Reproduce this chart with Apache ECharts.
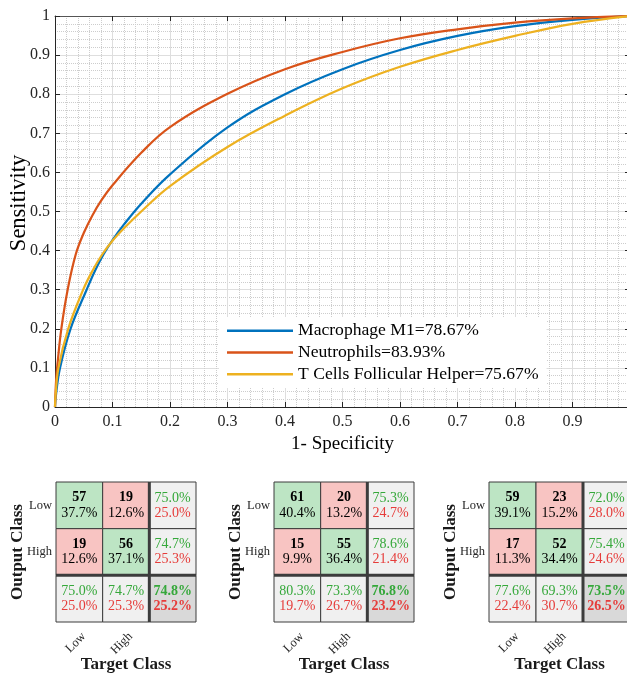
<!DOCTYPE html>
<html lang="en">
<head>
    <meta charset="UTF-8">
    <title>ROC and confusion matrices</title>
    <script src="https://cdn.jsdelivr.net/npm/echarts@6.0.0/dist/echarts.min.js"></script>
    <style>
        html, body { margin: 0; padding: 0; background: #fff; }
        #chart { width: 627px; height: 675px; }
    </style>
</head>
<body>
<div id="chart"></div>

<script>
    // ROC curves (1-specificity, sensitivity)
    var macroFpr = [0, 0.002, 0.0087, 0.027, 0.055, 0.07, 0.085, 0.1, 0.12, 0.15, 0.2, 0.3, 0.4, 0.5, 0.6, 0.7, 0.8, 0.9, 1];
    var macroTpr = [0, 0.035, 0.1, 0.2, 0.3, 0.35, 0.392, 0.427, 0.467, 0.52, 0.595, 0.715, 0.80, 0.864, 0.913, 0.949, 0.974, 0.990, 1];
    var neutroFpr = [0, 0.002, 0.005, 0.011, 0.022, 0.036, 0.05, 0.065, 0.08, 0.1, 0.15, 0.2, 0.3, 0.4, 0.5, 0.6, 0.7, 0.8, 0.9, 1];
    var neutroTpr = [0, 0.07, 0.12, 0.2, 0.3, 0.39, 0.445, 0.49, 0.527, 0.567, 0.65, 0.716, 0.801, 0.864, 0.908, 0.943, 0.966, 0.983, 0.994, 1];
    var tcellFpr = [0, 0.001, 0.006, 0.023, 0.049, 0.065, 0.082, 0.1, 0.12, 0.15, 0.2, 0.3, 0.4, 0.5, 0.6, 0.7, 0.8, 0.9, 1];
    var tcellTpr = [0, 0.03, 0.1, 0.2, 0.3, 0.348, 0.39, 0.425, 0.457, 0.5, 0.565, 0.665, 0.745, 0.815, 0.870, 0.913, 0.949, 0.980, 1];
    var seriesNames = ['Macrophage M1=78.67%', 'Neutrophils=83.93%', 'T Cells Follicular Helper=75.67%'];

    // confusion matrices: counts / percents row-major [LowLow, LowHigh, HighLow, HighHigh]
    var classNames = ['Low', 'High', ''];
    var cm1Counts = [57, 19, 19, 56];
    var cm1Pct = ['37.7%', '12.6%', '12.6%', '37.1%'];
    var cm1Rows = [['75.0%', '25.0%'], ['74.7%', '25.3%']];
    var cm1Cols = [['75.0%', '25.0%'], ['74.7%', '25.3%']];
    var cm1Total = ['74.8%', '25.2%'];

    var cm2Counts = [61, 20, 15, 55];
    var cm2Pct = ['40.4%', '13.2%', '9.9%', '36.4%'];
    var cm2Rows = [['75.3%', '24.7%'], ['78.6%', '21.4%']];
    var cm2Cols = [['80.3%', '19.7%'], ['73.3%', '26.7%']];
    var cm2Total = ['76.8%', '23.2%'];

    var cm3Counts = [59, 23, 17, 52];
    var cm3Pct = ['39.1%', '15.2%', '11.3%', '34.4%'];
    var cm3Rows = [['72.0%', '28.0%'], ['75.4%', '24.6%']];
    var cm3Cols = [['77.6%', '22.4%'], ['69.3%', '30.7%']];
    var cm3Total = ['73.5%', '26.5%'];

    var FONT = '"Liberation Serif", "Times New Roman", serif';
    var GREEN_TXT = '#35a83a', RED_TXT = '#e63c3a';

    function zip(xs, ys) {
        var out = [];
        for (var i = 0; i < xs.length; i++) out.push([xs[i], ys[i]]);
        return out;
    }

    function buildCells(counts, pct, rows, cols, total) {
        var cells = [];
        for (var r = 0; r < 2; r++) {
            for (var c = 0; c < 2; c++) {
                var k = r * 2 + c;
                cells.push({col: c, row: r, a: String(counts[k]), b: pct[k], kind: r === c ? 'hit' : 'miss'});
            }
            cells.push({col: 2, row: r, a: rows[r][0], b: rows[r][1], kind: 'side'});
        }
        for (var c2 = 0; c2 < 2; c2++) {
            cells.push({col: c2, row: 2, a: cols[c2][0], b: cols[c2][1], kind: 'side'});
        }
        cells.push({col: 2, row: 2, a: total[0], b: total[1], kind: 'total'});
        return cells;
    }

    var fills = {hit: '#bde5c4', miss: '#f8c4c2', side: '#f0f0f0', total: '#d9d9d9'};

    function makeRender(cells) {
        return function (params, api) {
            var cell = cells[params.dataIndex];
            var p = api.coord([api.value(0), api.value(1)]);
            var s = api.size([1, 1]);
            var x0 = p[0] - s[0] / 2, y0 = p[1] - s[1] / 2;
            var topColor = '#000', botColor = '#000', topW = 'bold', botW = 'normal';
            if (cell.kind === 'side') { topColor = GREEN_TXT; botColor = RED_TXT; topW = 'normal'; }
            if (cell.kind === 'total') { topColor = GREEN_TXT; botColor = RED_TXT; topW = 'bold'; botW = 'bold'; }
            var children = [
                {type: 'rect', shape: {x: x0, y: y0, width: s[0], height: s[1]},
                    style: {fill: fills[cell.kind], stroke: '#3c3c3c', lineWidth: 1}},
                {type: 'text', style: {text: cell.a, x: p[0], y: p[1] - 7.5, fill: topColor,
                    font: topW + ' 14px ' + FONT, align: 'center', verticalAlign: 'middle'}},
                {type: 'text', style: {text: cell.b, x: p[0], y: p[1] + 7.5, fill: botColor,
                    font: botW + ' 14px ' + FONT, align: 'center', verticalAlign: 'middle'}}
            ];
            if (cell.col === 2) {
                children.push({type: 'line', shape: {x1: x0, y1: y0, x2: x0, y2: y0 + s[1]},
                    style: {stroke: '#3c3c3c', lineWidth: 3}});
            }
            if (cell.row === 2) {
                children.push({type: 'line', shape: {x1: x0, y1: y0, x2: x0 + s[0], y2: y0},
                    style: {stroke: '#3c3c3c', lineWidth: 3}});
            }
            return {type: 'group', children: children};
        };
    }

    var matrices = [
        buildCells(cm1Counts, cm1Pct, cm1Rows, cm1Cols, cm1Total),
        buildCells(cm2Counts, cm2Pct, cm2Rows, cm2Cols, cm2Total),
        buildCells(cm3Counts, cm3Pct, cm3Rows, cm3Cols, cm3Total)
    ];
    var matrixLeft = [56, 274, 489];

    var chart = echarts.init(document.getElementById('chart'), null, {renderer: 'canvas'});

    var axisColor = '#262626';
    var grids = [{left: 55, top: 16, width: 575, height: 391, outerBoundsMode: 'none'}];
    var xAxes = [
        {
            type: 'value', gridIndex: 0, min: 0, max: 1, interval: 0.1, position: 'bottom',
            name: '1- Specificity', nameLocation: 'middle', nameGap: 28, nameMoveOverlap: false,
            nameTextStyle: {fontFamily: FONT, fontSize: 19, color: '#000'},
            axisLine: {show: true, onZero: false, lineStyle: {color: axisColor}},
            axisTick: {show: true, inside: true, length: 5, lineStyle: {color: axisColor}},
            axisLabel: {fontFamily: FONT, fontSize: 16, color: '#262626', margin: 7,
                formatter: function (v) { return v >= 1 ? '' : String(v); }},
            splitLine: {show: true, lineStyle: {color: '#dedede', width: 1}},
            minorTick: {show: false, splitNumber: 5},
            minorSplitLine: {show: true, lineStyle: {color: '#cdcdcd', type: 'dotted', width: 1}}
        },
        {
            type: 'value', gridIndex: 0, min: 0, max: 1, interval: 0.1, position: 'top',
            axisLine: {show: true, onZero: false, lineStyle: {color: '#555'}},
            axisTick: {show: true, inside: true, length: 5, lineStyle: {color: axisColor}},
            axisLabel: {show: false}, splitLine: {show: false}
        }
    ];
    var yAxes = [
        {
            type: 'value', gridIndex: 0, min: 0, max: 1, interval: 0.1, position: 'left',
            name: 'Sensitivity', nameLocation: 'middle', nameGap: 24, nameMoveOverlap: false,
            nameTextStyle: {fontFamily: FONT, fontSize: 22.5, color: '#000', padding: [0, 0, 0, 17]},
            axisLine: {show: true, onZero: false, lineStyle: {color: axisColor}},
            axisTick: {show: true, inside: true, length: 5, lineStyle: {color: axisColor}},
            axisLabel: {fontFamily: FONT, fontSize: 16, color: '#262626', margin: 5},
            splitLine: {show: true, lineStyle: {color: '#dedede', width: 1}},
            minorTick: {show: false, splitNumber: 5},
            minorSplitLine: {show: true, lineStyle: {color: '#cdcdcd', type: 'dotted', width: 1}}
        },
        {
            type: 'value', gridIndex: 0, min: 0, max: 1, interval: 0.1, position: 'right',
            axisLine: {show: true, onZero: false, lineStyle: {color: '#555'}},
            axisTick: {show: true, inside: true, length: 5, lineStyle: {color: axisColor}},
            axisLabel: {show: false}, splitLine: {show: false}
        }
    ];

    var series = [
        {name: seriesNames[0], type: 'line', xAxisIndex: 0, yAxisIndex: 0, data: zip(macroFpr, macroTpr),
            showSymbol: false, smooth: 0.4, color: '#0072bd', lineStyle: {width: 2.2}},
        {name: seriesNames[1], type: 'line', xAxisIndex: 0, yAxisIndex: 0, data: zip(neutroFpr, neutroTpr),
            showSymbol: false, smooth: 0.4, color: '#d95319', lineStyle: {width: 2.2}},
        {name: seriesNames[2], type: 'line', xAxisIndex: 0, yAxisIndex: 0, data: zip(tcellFpr, tcellTpr),
            showSymbol: false, smooth: 0.4, color: '#edb120', lineStyle: {width: 2.2}}
    ];

    for (var m = 0; m < 3; m++) {
        var gi = m + 1;      // grid index
        var ai = m + 2;      // axis index (0/1 belong to the ROC box)
        grids.push({left: matrixLeft[m], top: 482, width: m === 2 ? 141 : 140, height: 140, outerBoundsMode: 'none'});
        xAxes.push({
            type: 'category', gridIndex: gi, data: classNames, position: 'bottom',
            name: 'Target Class', nameLocation: 'middle', nameGap: 34, nameMoveOverlap: false,
            nameTextStyle: {fontFamily: FONT, fontSize: 17, fontWeight: 'bold', color: '#1a1a1a'},
            axisLine: {show: false}, axisTick: {show: false}, splitLine: {show: false},
            axisLabel: {fontFamily: FONT, fontSize: 12.5, color: '#262626', rotate: 45, margin: 8,
                verticalAlign: 'top', interval: 0}
        });
        yAxes.push({
            type: 'category', gridIndex: gi, data: classNames, inverse: true, position: 'left',
            name: 'Output Class', nameLocation: 'middle', nameGap: 30, nameMoveOverlap: false,
            nameTextStyle: {fontFamily: FONT, fontSize: 17, fontWeight: 'bold', color: '#1a1a1a'},
            axisLine: {show: false}, axisTick: {show: false}, splitLine: {show: false},
            axisLabel: {fontFamily: FONT, fontSize: 12.5, color: '#262626', margin: 4, interval: 0}
        });
        var pts = matrices[m].map(function (c) { return [c.col, c.row]; });
        series.push({
            type: 'custom', name: 'cm' + (m + 1), xAxisIndex: ai, yAxisIndex: ai,
            renderItem: makeRender(matrices[m]), data: pts, silent: true
        });
    }

    var option = {
        animation: false,
        backgroundColor: '#fff',
        grid: grids,
        xAxis: xAxes,
        yAxis: yAxes,
        legend: {
            data: seriesNames,
            orient: 'vertical',
            left: 219, top: 317,
            padding: [3, 8, 3, 8],
            backgroundColor: '#fff',
            borderWidth: 0,
            itemGap: 0,
            itemWidth: 66, itemHeight: 2.5,
            icon: 'rect',
            textStyle: {fontFamily: FONT, fontSize: 17.6, color: '#000', lineHeight: 21.7}
        },
        series: series
    };

    chart.setOption(option);
</script>
</body>
</html>
